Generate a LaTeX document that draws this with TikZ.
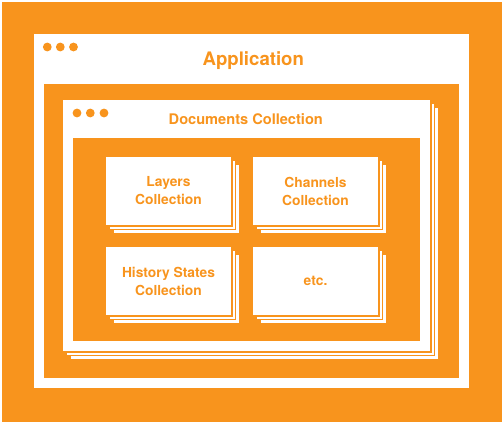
\documentclass[tikz,border=0pt]{standalone}
\usepackage{fontspec}
\setmainfont{TeX Gyre Heros}
\definecolor{brand}{RGB}{248,148,29}
\begin{document}
\begin{tikzpicture}[x=1pt,y=-1pt,
  panel/.style={fill=brand, draw=none, inner sep=0pt, outer sep=0pt, anchor=north west},
  win/.style={fill=white, draw=none, inner sep=0pt, outer sep=0pt, anchor=north west},
  sheet/.style={fill=white, draw=brand, line width=1.6pt},
  card/.style={sheet, inner sep=0pt, outer sep=0pt, minimum width=126.6pt, minimum height=69.6pt,
    align=center, text=brand, font=\bfseries\fontsize{13.8}{18}\selectfont},
  dot/.style={circle, fill=brand, draw=none, minimum size=8.8pt, inner sep=0pt},
  bigtitle/.style={text=brand, inner sep=0pt, anchor=base, font=\bfseries\fontsize{18.6}{22}\selectfont},
  midtitle/.style={text=brand, inner sep=0pt, anchor=base, font=\bfseries\fontsize{14.6}{18}\selectfont}
]
\useasboundingbox (0,0) rectangle (504,424);
% outer application frame
\node[panel, minimum width=500pt, minimum height=420pt] (frame) at (2,2) {};
\node[win, minimum width=435pt, minimum height=354pt] (app) at (34,34) {};
\node[dot] (ad1) at (47.3,47) {};
\node[dot] (ad2) at (60.3,47) {};
\node[dot] (ad3) at (73.5,47) {};
\node[bigtitle] (apptitle) at (253.3,65.7) {Application};
\node[panel, minimum width=415pt, minimum height=294pt] (appcontent) at (44,84) {};
% documents window (stack)
\path[sheet] (62.2+7.6,99.2+7.6) rectangle (430.8+7.6,351.8+7.6);
\path[sheet] (62.2+3.8,99.2+3.8) rectangle (430.8+3.8,351.8+3.8);
\node[sheet, inner sep=0pt, outer sep=0pt, minimum width=368.6pt, minimum height=252.6pt] (docs) at (246.5,225.5) {};
\node[dot] (dd1) at (77,113) {};
\node[dot] (dd2) at (90.3,113) {};
\node[dot] (dd3) at (104,113) {};
\node[midtitle] (docstitle) at (245.8,124) {Documents Collection};
\node[panel, minimum width=347pt, minimum height=202.4pt] (docscontent) at (73,138.3) {};
% collection cards
\foreach \cx/\cy in {168.5/191, 315.5/191, 168.5/281, 315.5/281}{
  \path[sheet] (\cx-63.3+7.6,\cy-34.8+7.6) rectangle (\cx+63.3+7.6,\cy+34.8+7.6);
  \path[sheet] (\cx-63.3+3.8,\cy-34.8+3.8) rectangle (\cx+63.3+3.8,\cy+34.8+3.8);
}
\node[card] (layers) at (168.5,191) {Layers\\Collection};
\node[card] (channels) at (315.5,191) {Channels\\Collection};
\node[card] (history) at (168.5,281) {History States\\Collection};
\node[card] (etc) at (315.5,281) {etc.};
\end{tikzpicture}
\end{document}
